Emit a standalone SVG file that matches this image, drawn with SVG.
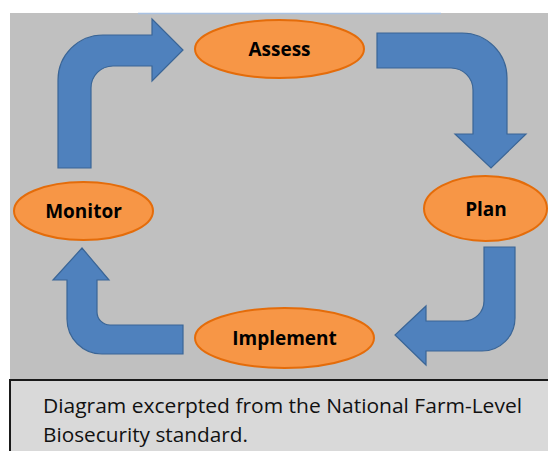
<svg xmlns="http://www.w3.org/2000/svg" width="548" height="451" viewBox="0 0 548 451">
<style>
.arrow{fill:#4f81bd;stroke:#3a6596;stroke-width:1.2;stroke-linejoin:miter}
.node ellipse{fill:#f79646;stroke:#e46c0a;stroke-width:2}
.node text{font-family:"Open Sans","Liberation Sans",sans-serif;font-weight:bold;font-size:19px;fill:#000;text-anchor:middle}
.cap{font-family:"Open Sans","Liberation Sans",sans-serif;font-size:20.5px;fill:#111}
</style>
<rect x="0" y="0" width="548" height="451" fill="#ffffff"/>
<rect x="10" y="13" width="538" height="367" fill="#c0c0c0"/>
<line x1="138" y1="13.5" x2="441" y2="13.5" stroke="#a9c1e2" stroke-width="1.5"/>
<g id="connectors">
<path class="arrow" d="M58,168 L58,80 A45,45 0 0 1 103,35 L152,35 L152,19 L183,50 L152,81 L152,66 L113,66 A22,22 0 0 0 91,88 L91,168 Z"/>
<path class="arrow" d="M377,33 L462,33 A45,45 0 0 1 507,78 L507,134 L526,134 L491,168 L455,134 L473,134 L473,90 A22,22 0 0 0 451,68 L377,68 Z"/>
<path class="arrow" d="M484,247 L515,247 L515,318 A33,33 0 0 1 482,351 L426,351 L426,365 L395,335 L426,306 L426,321 L464,321 A20,20 0 0 0 484,301 Z"/>
<path class="arrow" d="M183,325 L183,354 L102,354 A35,35 0 0 1 67,319 L67,280 L53,280 L82,248 L109,280 L97,280 L97,312 A13,13 0 0 0 110,325 Z"/>
</g>
<g id="assess" class="node"><ellipse cx="279.5" cy="49" rx="84.5" ry="29"/><text x="279.5" y="56">Assess</text></g>
<g id="plan" class="node"><ellipse cx="485.5" cy="208.5" rx="61.5" ry="32.5"/><text x="486" y="216">Plan</text></g>
<g id="implement" class="node"><ellipse cx="284.5" cy="338" rx="89.5" ry="30"/><text x="284.5" y="345">Implement</text></g>
<g id="monitor" class="node"><ellipse cx="83.5" cy="211" rx="69.5" ry="29"/><text x="83.5" y="218">Monitor</text></g>
<g id="caption">
<rect x="10" y="380" width="540" height="75" fill="#d9d9d9" stroke="#1a1a1a" stroke-width="2"/>
<text class="cap" x="43" y="413" textLength="479" lengthAdjust="spacingAndGlyphs">Diagram excerpted from the National Farm-Level</text>
<text class="cap" x="43" y="442" textLength="205" lengthAdjust="spacingAndGlyphs">Biosecurity standard.</text>
</g>
</svg>
